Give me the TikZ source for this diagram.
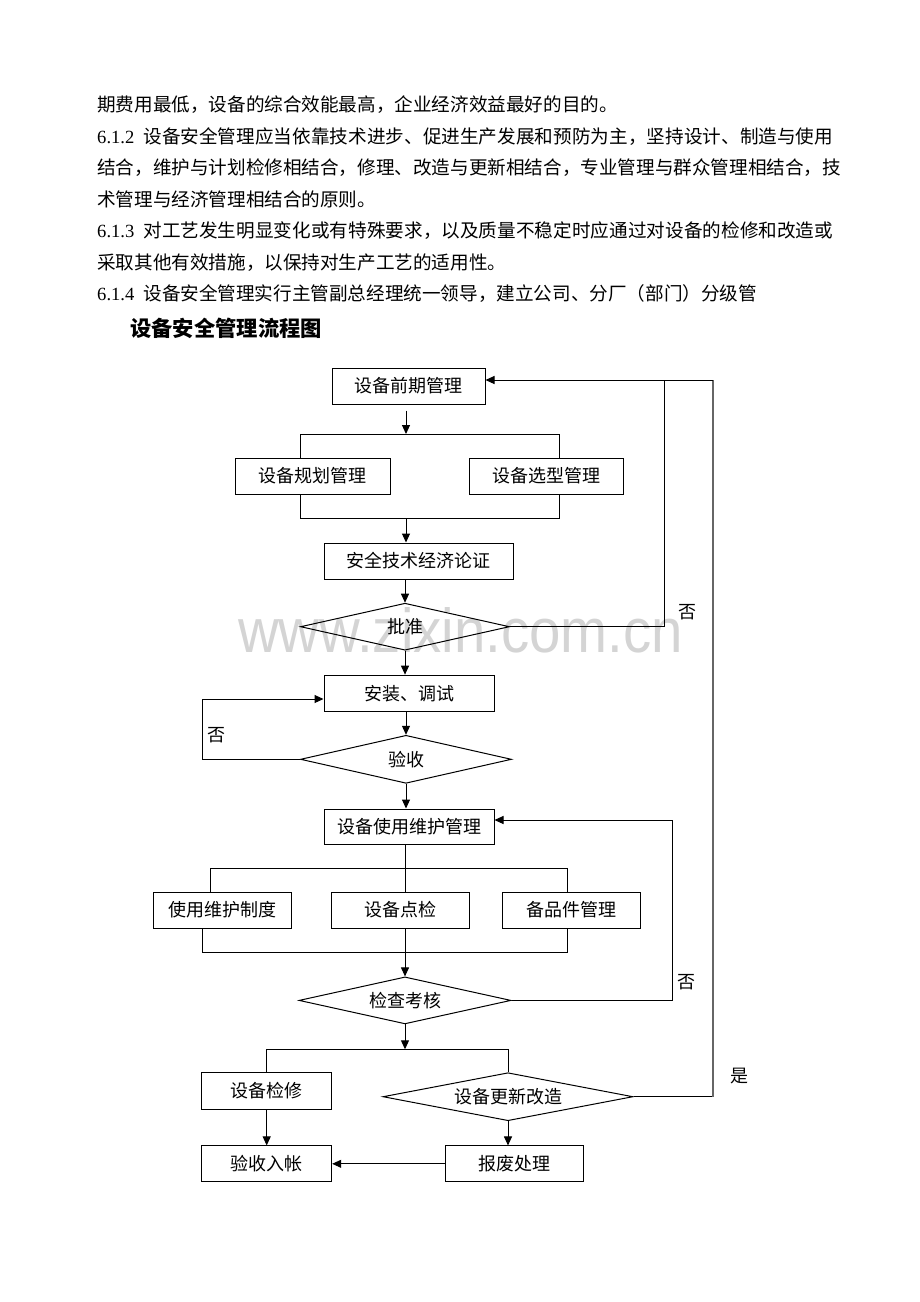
\documentclass[tikz,border=0pt]{standalone}
\usepackage{fontspec}
\usepackage{graphicx}
\usetikzlibrary{arrows.meta,shapes.geometric,calc}
\setmainfont{Liberation Serif}
\newfontfamily\cjk{Noto Sans CJK SC}
\newfontfamily\wmfont{Liberation Sans}
\newcommand\dfont{\cjk\fontsize{18}{18}\selectfont}
\newcommand\pfont{\cjk\fontsize{18.6}{18.6}\selectfont}
\makeatletter
\newcommand\jline[3]{\hbox to #1{#2\@tfor\jc:=#3\do{\jc\hfil}\unskip}}
\makeatother
\begin{document}
\begin{tikzpicture}[x=1pt,y=-1pt,
  box/.style={draw,line width=1pt,rectangle,inner sep=0pt,font=\dfont},
  dia/.style={draw,line width=1pt,diamond,aspect=4.5,inner sep=0pt,font=\dfont},
  ln/.style={line width=1pt},
  arr/.style={line width=1pt,-{Triangle[length=9pt,width=8pt]}},
  lbl/.style={font=\dfont,inner sep=0pt},
  para/.style={anchor=base west,inner sep=0pt,font=\pfont}]
\fill[white] (0,0) rectangle (920,1302);
\useasboundingbox (0,0) rectangle (920,1302);

% watermark
\node[anchor=south west,inner sep=0pt,text=black!17] (wm) at (238,653) {\resizebox{445pt}{45pt}{\wmfont www.zixin.com.cn}};

% paragraph text
\node[para] (t1) at (97,111) {期费用最低，设备的综合效能最高，企业经济效益最好的目的。};
\node[para] (t2) at (97,143) {\jline{736pt}{{\rmfamily 6.1.2}\hspace{9pt}}{设备安全管理应当依靠技术进步、促进生产发展和预防为主，坚持设计、制造与使用}};
\node[para] (t3) at (97,174.5) {\jline{736pt}{}{结合，维护与计划检修相结合，修理、改造与更新相结合，专业管理与群众管理相结合，技}};
\node[para] (t4) at (97,206) {术管理与经济管理相结合的原则。};
\node[para] (t5) at (97,237.5) {\jline{736pt}{{\rmfamily 6.1.3}\hspace{9pt}}{对工艺发生明显变化或有特殊要求，以及质量不稳定时应通过对设备的检修和改造或}};
\node[para] (t6) at (97,269) {采取其他有效措施，以保持对生产工艺的适用性。};
\node[para] (t7) at (97,300.5) {{\rmfamily 6.1.4}\hspace{9pt}设备安全管理实行主管副总经理统一领导，建立公司、分厂（部门）分级管};
\node[anchor=base west,inner sep=0pt,font=\cjk\fontsize{21.3}{21.3}\selectfont\bfseries] (title) at (130,336) {设备安全管理流程图};

% nodes
\node[box,minimum width=153pt,minimum height=36pt] (b1) at (408.5,386) {设备前期管理};
\node[box,minimum width=155pt,minimum height=36pt] (b2) at (312.5,476) {设备规划管理};
\node[box,minimum width=154pt,minimum height=36pt] (b3) at (546,476) {设备选型管理};
\node[box,minimum width=189pt,minimum height=36pt] (b4) at (418.5,561) {安全技术经济论证};
\node[dia,minimum width=209pt,minimum height=47pt] (d1) at (405,626.7) {批准};
\node[box,minimum width=170pt,minimum height=36.5pt] (b5) at (409,693.4) {安装、调试};
\node[dia,minimum width=211pt,minimum height=48pt] (d2) at (406,759.3) {验收};
\node[box,minimum width=170pt,minimum height=35pt] (b6) at (409,826.5) {设备使用维护管理};
\node[box,minimum width=138pt,minimum height=36pt] (b7) at (222,910) {使用维护制度};
\node[box,minimum width=138pt,minimum height=36pt] (b8) at (400.5,910) {设备点检};
\node[box,minimum width=138pt,minimum height=36pt] (b9) at (571,910) {备品件管理};
\node[dia,minimum width=212pt,minimum height=47pt] (d3) at (405,1000.4) {检查考核};
\node[box,minimum width=130pt,minimum height=36.6pt] (b10) at (266.7,1091) {设备检修};
\node[dia,minimum width=250pt,minimum height=48pt] (d4) at (508,1096.7) {设备更新改造};
\node[box,minimum width=130pt,minimum height=35.7pt] (b11) at (266.7,1163.8) {验收入帐};
\node[box,minimum width=138pt,minimum height=35.7pt] (b12) at (514,1163.8) {报废处理};

% labels
\node[lbl] (n1) at (687,611.7) {否};
\node[lbl] (n2) at (216.7,735) {否};
\node[lbl] (n3) at (686.7,981.7) {否};
\node[lbl] (n4) at (739,1076) {是};

% coordinates
\coordinate (j1) at (406,434);
\coordinate (j1l) at (300,434);
\coordinate (j1r) at (559,434);
\coordinate (m1) at (406,518);
\coordinate (m1l) at (300,518);
\coordinate (m1r) at (559,518);
\coordinate (lp) at (202,699);
\coordinate (j2) at (405,868);
\coordinate (j2l) at (210,868);
\coordinate (j2r) at (567,868);
\coordinate (m2) at (405,952);
\coordinate (m2l) at (202,952);
\coordinate (m2r) at (567,952);
\coordinate (lp2) at (672,820);
\coordinate (j3) at (405,1049.3);
\coordinate (j3l) at (266.7,1049.3);
\coordinate (j3r) at (508,1049.3);
\coordinate (li) at (664,380);
\coordinate (lo) at (713,380);

% connectors
\draw[arr,shorten <=6pt] (b1.south -| j1) -- (j1);
\draw[ln] (j1l |- b2.north) -- (j1l) -- (j1r) -- (j1r |- b3.north);
\draw[ln] (m1l |- b2.south) -- (m1l) -- (m1r) -- (m1r |- b3.south);
\draw[arr] (m1) -- (m1 |- b4.north);
\draw[arr] (d1.north |- b4.south) -- (d1.north);
\draw[arr] (d1.south) -- (d1.south |- b5.north);
\draw[arr] (d2.north |- b5.south) -- (d2.north);
\draw[arr] (d2.west) -- (d2.west -| lp) -- (lp) -- (lp -| b5.west);
\draw[arr] (d2.south) -- (d2.south |- b6.north);
\draw[ln] (j2 |- b6.south) -- (j2 |- b8.north);
\draw[ln] (j2l |- b7.north) -- (j2l) -- (j2r) -- (j2r |- b9.north);
\draw[ln] (m2l |- b7.south) -- (m2l) -- (m2r) -- (m2r |- b9.south);
\draw[ln] (m2 |- b8.south) -- (m2);
\draw[arr] (m2) -- (d3.north);
\draw[arr] (d3.east) -- (d3.east -| lp2) -- (lp2) -- (lp2 -| b6.east);
\draw[arr] (d3.south) -- (j3);
\draw[ln] (j3l |- b10.north) -- (j3l) -- (j3r) -- (d4.north);
\draw[arr] (b10.south) -- (b11.north);
\draw[arr] (d4.south) -- (d4.south |- b12.north);
\draw[arr] (b12) -- (b11);
\draw[ln] (d1.east) -- (d1.east -| li) -- (li);
\draw[ln] (d4.east) -- (d4.east -| lo);
\draw[line width=1.5pt,black!60] (d4.east -| lo) -- (lo);
\draw[arr] (lo) -- (lo -| b1.east);
\end{tikzpicture}
\end{document}
